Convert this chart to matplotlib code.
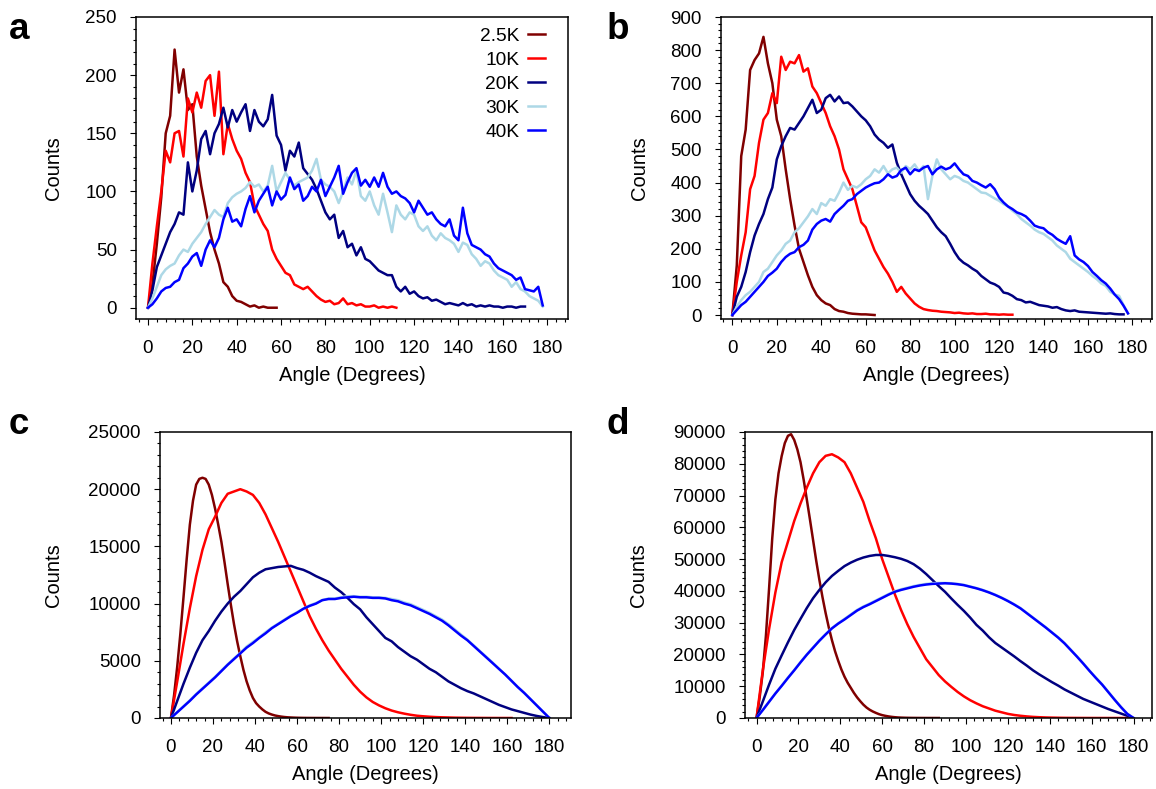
import numpy as np
import matplotlib
matplotlib.use('Agg')
import matplotlib.pyplot as plt
import matplotlib.transforms as mtransforms
from matplotlib.ticker import MultipleLocator, AutoMinorLocator

plt.rcParams['font.family'] = ['Liberation Sans', 'DejaVu Sans']

W, H = 1156, 789

labels = ['2.5K', '10K', '20K', '30K', '40K']
colors = ['#800000', '#ff0000', '#000080', '#add8e6', '#0000ff']

# ---- panel a: bin width 2 degrees, counts ----
a_steps = [2, 2, 2, 2, 2]
a_25k = [0, 20, 55, 95, 150, 165, 222, 185, 205, 170, 175, 130, 105, 85, 65, 50, 38, 22, 18, 10,
         6, 5, 3, 1, 2, 0, 1, 0, 0, 0]
a_10k = [0, 38, 70, 100, 135, 125, 150, 152, 130, 180, 168, 185, 172, 195, 200, 165, 203, 132, 158, 145,
         135, 128, 116, 108, 88, 80, 72, 66, 50, 42, 36, 30, 28, 20, 18, 16, 18, 14, 10, 7,
         5, 6, 3, 4, 8, 3, 4, 2, 3, 1, 1, 2, 0, 1, 0, 1, 0]
a_20k = [0, 15, 35, 45, 55, 65, 72, 82, 80, 125, 100, 118, 145, 152, 132, 150, 158, 172, 155, 170,
         160, 168, 175, 152, 170, 160, 156, 162, 183, 148, 140, 118, 135, 130, 142, 120, 115, 110, 102, 92,
         82, 76, 80, 60, 66, 52, 55, 45, 52, 42, 40, 36, 32, 30, 28, 28, 18, 14, 18, 12,
         14, 10, 8, 9, 6, 7, 5, 3, 4, 3, 2, 4, 2, 3, 1, 2, 1, 2, 1, 1, 0, 1, 1, 0, 1, 1]
a_30k = [0, 8, 18, 28, 33, 36, 38, 45, 50, 48, 55, 60, 65, 72, 78, 84, 80, 78, 90, 95,
         98, 100, 103, 108, 104, 106, 100, 105, 122, 100, 108, 116, 110, 105, 108, 110, 112, 118, 128, 110,
         106, 104, 100, 90, 100, 112, 106, 118, 96, 92, 100, 88, 80, 98, 82, 65, 88, 80, 76, 82,
         80, 70, 66, 70, 62, 58, 64, 60, 58, 55, 48, 56, 54, 46, 42, 36, 40, 38, 32, 28,
         26, 24, 18, 22, 16, 14, 10, 8, 6, 1]
a_40k = [0, 3, 8, 14, 17, 18, 22, 24, 34, 38, 44, 47, 36, 50, 58, 52, 60, 76, 86, 74,
         76, 70, 85, 96, 82, 92, 98, 104, 88, 100, 93, 97, 112, 102, 106, 92, 96, 104, 100, 110,
         96, 104, 112, 122, 98, 108, 116, 120, 105, 110, 104, 112, 104, 116, 104, 98, 100, 96, 94, 90,
         82, 92, 86, 80, 82, 76, 72, 70, 76, 62, 58, 86, 64, 54, 52, 50, 46, 44, 38, 34,
         32, 30, 28, 24, 26, 16, 15, 14, 18, 2]

# ---- panel b: bin width 2 degrees ----
b_steps = [2, 2, 2, 2, 2]
b_25k = [0, 150, 480, 560, 740, 770, 790, 840, 760, 700, 590, 540, 440, 350, 270, 200, 160, 120, 85, 60,
         45, 35, 30, 18, 12, 10, 6, 4, 3, 2, 2, 1, 0]
b_10k = [0, 100, 180, 250, 380, 420, 520, 590, 610, 670, 640, 780, 740, 765, 760, 785, 735, 745, 690, 670,
         640, 610, 570, 540, 500, 440, 410, 380, 330, 280, 265, 230, 195, 170, 145, 125, 100, 70, 85, 65,
         50, 35, 25, 18, 15, 13, 12, 10, 9, 8, 6, 7, 5, 4, 5, 3, 3, 4, 2, 2, 1, 2, 1, 1]
b_20k = [0, 55, 85, 130, 190, 240, 275, 305, 350, 385, 470, 510, 540, 565, 560, 580, 600, 625, 650, 610,
         620, 655, 665, 645, 660, 640, 642, 630, 615, 600, 588, 570, 545, 530, 520, 505, 515, 460, 425, 395,
         365, 345, 330, 318, 305, 285, 265, 250, 238, 215, 190, 170, 158, 150, 140, 132, 118, 108, 98, 93,
         85, 68, 65, 58, 48, 45, 38, 40, 35, 30, 28, 26, 22, 24, 18, 14, 12, 14, 10, 9,
         8, 7, 6, 5, 4, 5, 3, 2, 2]
b_30k = [0, 25, 45, 60, 70, 85, 100, 130, 140, 160, 180, 195, 215, 225, 250, 262, 280, 298, 320, 305,
         338, 330, 350, 345, 370, 400, 378, 390, 385, 395, 410, 420, 440, 430, 450, 428, 440, 445, 430, 450,
         440, 455, 435, 450, 350, 420, 470, 440, 425, 410, 420, 415, 405, 400, 390, 380, 370, 368, 360, 352,
         345, 335, 328, 315, 305, 290, 280, 270, 258, 250, 245, 235, 225, 210, 200, 190, 170, 160, 150, 140,
         130, 118, 108, 95, 88, 70, 62, 58, 30, 5]
b_40k = [0, 15, 30, 40, 55, 70, 85, 100, 118, 128, 140, 160, 175, 185, 190, 205, 212, 225, 258, 275,
         285, 290, 282, 305, 318, 330, 345, 350, 365, 375, 385, 392, 398, 400, 410, 425, 415, 420, 438, 445,
         425, 440, 435, 445, 450, 425, 440, 448, 440, 445, 458, 440, 425, 420, 405, 400, 392, 385, 395, 380,
         355, 340, 328, 320, 310, 305, 298, 285, 270, 265, 262, 250, 242, 230, 222, 215, 238, 180, 168, 160,
         148, 130, 118, 105, 95, 80, 62, 48, 28, 5]

# ---- panel c: 2.5K every 1.5 degrees, others every 3 degrees ----
c_steps = [1.5, 3, 3, 3, 3]
c_25k = [0, 2000, 4500, 7400, 10600, 13900, 16900, 19000, 20400, 20900, 21000, 20900, 20400, 19500, 18300,
         16900, 15400, 13600, 11700, 9900, 8200, 6700, 5400, 4200, 3200, 2400, 1750, 1300, 1000, 750,
         540, 400, 300, 220, 165, 120, 85, 60, 45, 32, 22, 15, 10, 7, 5, 3, 2, 1, 1, 0, 0]
c_10k = [0, 3200, 6500, 9600, 12400, 14700, 16500, 17600, 18800, 19600, 19800, 20000, 19800, 19500, 18800,
         17800, 16600, 15400, 14100, 12800, 11500, 10200, 8900, 7800, 6800, 5900, 5100, 4300, 3600, 2900,
         2300, 1800, 1400, 1100, 850, 650, 500, 380, 280, 200, 150, 110, 80, 60, 45, 30, 22, 15, 10, 8,
         5, 3, 2, 1, 0]
c_20k = [0, 1500, 3000, 4400, 5700, 6800, 7600, 8500, 9300, 10000, 10600, 11100, 11700, 12300, 12700, 13000,
         13100, 13200, 13250, 13300, 13100, 12950, 12700, 12400, 12150, 11900, 11400, 11000, 10500, 9950,
         9500, 8800, 8200, 7600, 7000, 6700, 6200, 5800, 5400, 5100, 4700, 4300, 4000, 3600, 3200, 2900,
         2600, 2350, 2150, 1900, 1650, 1400, 1150, 950, 750, 600, 450, 300, 180, 80, 0]
c_30k = [0, 520, 1030, 1550, 2100, 2600, 3100, 3600, 4150, 4700, 5200, 5700, 6250, 6650, 7050, 7500, 7900,
         8250, 8600, 8950, 9250, 9550, 9850, 10050, 10300, 10450, 10450, 10550, 10650, 10650, 10600, 10600,
         10550, 10550, 10500, 10400, 10300, 10100, 9950, 9700, 9450, 9200, 8900, 8600, 8200, 7750, 7300,
         6850, 6350, 5850, 5350, 4850, 4300, 3800, 3250, 2700, 2200, 1650, 1100, 550, 0]
c_40k = [0, 500, 1000, 1500, 2050, 2550, 3050, 3550, 4100, 4650, 5150, 5650, 6150, 6550, 7000, 7400, 7850,
         8200, 8550, 8900, 9200, 9550, 9800, 10000, 10300, 10400, 10400, 10500, 10550, 10600, 10550, 10550,
         10500, 10500, 10450, 10300, 10200, 10000, 9850, 9600, 9350, 9100, 8800, 8500, 8100, 7650, 7200,
         6800, 6300, 5800, 5300, 4800, 4300, 3800, 3250, 2700, 2200, 1650, 1100, 550, 0]

# ---- panel d: 2.5K every 1.5 degrees, others every 3 degrees ----
d_steps = [1.5, 3, 3, 3, 3]
d_25k = [0, 6500, 14500, 26000, 40800, 56500, 68800, 77000, 82400, 86500, 88800, 89300, 87500, 84500,
         80500, 75000, 68800, 62500, 56000, 49500, 43500, 38000, 33000, 28500, 24500, 21000, 18000, 15300,
         13000, 11100, 9500, 7900, 6500, 5300, 4200, 3300, 2600, 2050, 1600, 1200, 900, 680, 500, 360,
         250, 170, 120, 85, 60, 40, 30, 20, 15, 8, 5, 3, 2, 1, 0]
d_10k = [0, 15000, 28000, 39500, 49000, 55500, 62000, 67500, 72500, 77000, 80500, 82500, 83000, 82000,
         80500, 77000, 72500, 68000, 62000, 56500, 50000, 44500, 39000, 34000, 29500, 25500, 22000, 18500,
         16000, 13500, 11500, 9800, 8200, 6800, 5600, 4600, 3700, 3000, 2300, 1800, 1300, 950, 700, 500,
         350, 250, 170, 120, 80, 50, 35, 25, 15, 10, 6, 4, 2, 1, 0, 0]
d_20k = [0, 5200, 10500, 15500, 19700, 23800, 27700, 31200, 34600, 37700, 40300, 42700, 44700, 46300,
         47800, 48900, 49800, 50500, 51000, 51300, 51300, 51000, 50600, 50100, 49400, 48400, 47000, 45300,
         43400, 41500, 39700, 37600, 35600, 33700, 31600, 29300, 27500, 25400, 23600, 22200, 20800, 19400,
         17900, 16500, 15000, 13700, 12500, 11300, 10200, 9000, 8000, 7000, 6000, 5200, 4400, 3600, 2800,
         2100, 1400, 700, 0]
d_30k = [0, 2550, 5150, 7750, 10200, 12700, 15100, 17600, 20000, 22200, 24400, 26400, 28300, 29800, 31200,
         32600, 34000, 35100, 36000, 37000, 38000, 39000, 39900, 40500, 41000, 41500, 41900, 42200, 42400,
         42500, 42500, 42400, 42200, 41900, 41400, 40900, 40300, 39600, 38800, 37900, 36900, 35800, 34600,
         33100, 31600, 30100, 28600, 27000, 25400, 23600, 21500, 19400, 17200, 14900, 12700, 10600, 8200,
         5800, 3500, 1350, 0]
d_40k = [0, 2500, 5100, 7700, 10100, 12600, 15000, 17500, 19900, 22100, 24300, 26300, 28200, 29700, 31000,
         32400, 33800, 34900, 35800, 36800, 37800, 38800, 39700, 40300, 40800, 41300, 41700, 42000, 42200,
         42300, 42400, 42300, 42100, 41800, 41300, 40800, 40200, 39500, 38700, 37800, 36800, 35700, 34500,
         33000, 31500, 30000, 28500, 26900, 25300, 23500, 21400, 19300, 17100, 14800, 12600, 10500, 8100,
         5700, 3400, 1300, 0]

panels = [
    dict(letter='a', box=(136, 17, 568, 319), steps=a_steps, series=[a_25k, a_10k, a_20k, a_30k, a_40k],
         xlim=(-5.4, 189.4), ylim=(-9.7, 250), ymajor=50, letter_xy=(9, 39), ylab_x=63, xlab_y=366),
    dict(letter='b', box=(721, 17, 1152, 319), steps=b_steps, series=[b_25k, b_10k, b_20k, b_30k, b_40k],
         xlim=(-5.1, 188.8), ylim=(-12, 900), ymajor=100, letter_xy=(607, 39), ylab_x=649, xlab_y=366),
    dict(letter='c', box=(160, 432, 571, 718), steps=c_steps, series=[c_25k, c_10k, c_20k, c_30k, c_40k],
         xlim=(-5.2, 190.3), ylim=(0, 25000), ymajor=5000, letter_xy=(9, 434), ylab_x=63, xlab_y=765),
    dict(letter='d', box=(745, 432, 1152, 718), steps=d_steps, series=[d_25k, d_10k, d_20k, d_30k, d_40k],
         xlim=(-5.5, 188.8), ylim=(0, 90000), ymajor=10000, letter_xy=(607, 434), ylab_x=648, xlab_y=765),
]

fig = plt.figure(figsize=(W / 100, H / 100), dpi=100)

for p in panels:
    l, t, r, b = p['box']
    ax = fig.add_axes([l / W, 1 - b / H, (r - l) / W, (b - t) / H])

    for vals, step, lab, col in zip(p['series'], p['steps'], labels, colors):
        ang = np.arange(len(vals)) * step
        ax.plot(ang, vals, color=col, lw=1.8, label=lab)

    ax.set_xlim(*p['xlim'])
    ax.set_ylim(*p['ylim'])
    ax.xaxis.set_major_locator(MultipleLocator(20))
    ax.xaxis.set_minor_locator(AutoMinorLocator(5))
    ax.yaxis.set_major_locator(MultipleLocator(p['ymajor']))
    ax.yaxis.set_minor_locator(AutoMinorLocator(5))

    ax.tick_params(which='both', direction='out', top=False, right=False, width=0.8, labelsize=13.5)
    ax.tick_params(which='major', length=4.2)
    ax.tick_params(which='minor', length=2.4)
    ax.tick_params(axis='x', pad=11)
    ax.tick_params(axis='y', pad=9.5)
    for sp in ax.spines.values():
        sp.set_linewidth(1.1)

    ax.set_xlabel('Angle (Degrees)', fontsize=14.5)
    ax.set_ylabel('Counts', fontsize=14.5)
    ax.xaxis.set_label_coords(0.5, 1 - p['xlab_y'] / H,
                              transform=mtransforms.blended_transform_factory(ax.transAxes, fig.transFigure))
    ax.yaxis.set_label_coords(p['ylab_x'] / W, 0.5,
                              transform=mtransforms.blended_transform_factory(fig.transFigure, ax.transAxes))

    lx, ly = p['letter_xy']
    fig.text(lx / W, 1 - ly / H, p['letter'], fontsize=26.5, fontweight='bold',
             ha='left', va='baseline')

    if p['letter'] == 'a':
        ax.legend(loc='upper right', bbox_to_anchor=(545 / W, 1 - 27.5 / H),
                  bbox_transform=fig.transFigure, frameon=False, markerfirst=False,
                  fontsize=13.8, handlelength=0.88, handletextpad=0.45, labelspacing=0.34,
                  borderpad=0, borderaxespad=0)

fig.savefig('out.png', dpi=100)
